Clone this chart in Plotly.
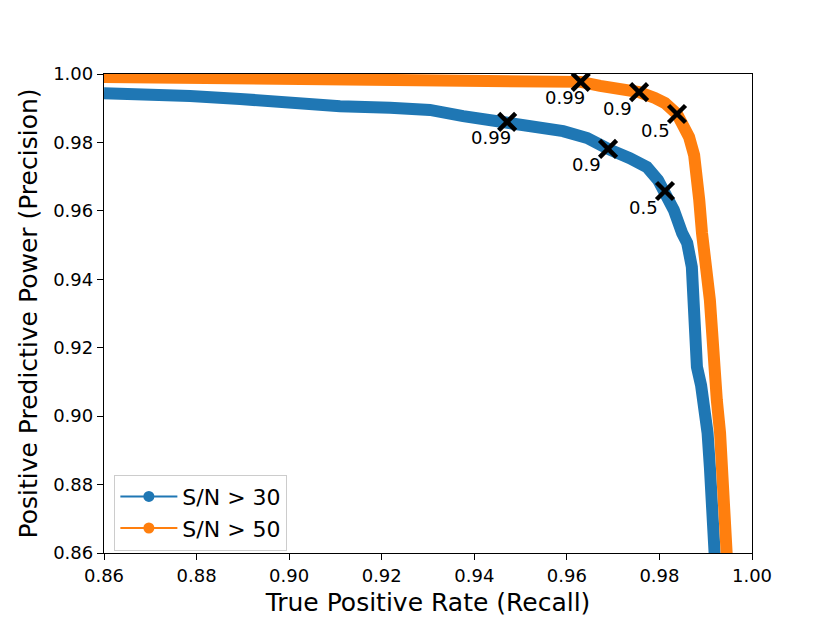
import plotly.graph_objects as go

# precision-recall curves
recall_sn30 = [0.8600, 0.8699, 0.8786, 0.8894, 0.9002, 0.9110, 0.9218, 0.9304, 0.9376,
               0.9434, 0.9471, 0.9520, 0.9592, 0.9644, 0.9672, 0.9689, 0.9736, 0.9773,
               0.9797, 0.9812, 0.9825, 0.9831, 0.9849, 0.9860, 0.9870, 0.9873, 0.9875,
               0.9881, 0.9890, 0.9898, 0.9904, 0.9909, 0.9914, 0.9918, 0.9920]
precision_sn30 = [0.9944, 0.9942, 0.9936, 0.9927, 0.9915, 0.9906, 0.9901, 0.9895, 0.9877,
                  0.9866, 0.9860, 0.9842, 0.9833, 0.9813, 0.9792, 0.9781, 0.9754, 0.9728,
                  0.9690, 0.9658, 0.9632, 0.9603, 0.9535, 0.9506, 0.9436, 0.9339, 0.9243,
                  0.9144, 0.9090, 0.9020, 0.8951, 0.8851, 0.8755, 0.8658, 0.8580]

recall_sn50 = [0.8600, 0.8764, 0.9023, 0.9304, 0.9456, 0.9542, 0.9630, 0.9672, 0.9715,
               0.9756, 0.9790, 0.9812, 0.9838, 0.9853, 0.9864, 0.9875, 0.9881, 0.9886,
               0.9892, 0.9903, 0.9909, 0.9914, 0.9916, 0.9924, 0.9931, 0.9937, 0.9942,
               0.9944, 0.9946]
precision_sn50 = [0.9991, 0.9988, 0.9988, 0.9985, 0.9982, 0.9977, 0.9977, 0.9965, 0.9959,
                  0.9947, 0.9930, 0.9915, 0.9883, 0.9851, 0.9816, 0.9763, 0.9705, 0.9632,
                  0.9535, 0.9436, 0.9339, 0.9243, 0.9144, 0.9047, 0.8951, 0.8851, 0.8755,
                  0.8658, 0.8580]

# threshold markers
thresh_labels = ["0.99", "0.9", "0.5"]
thresh_rec_sn30 = [0.9471, 0.9689, 0.9812]
thresh_prec_sn30 = [0.9860, 0.9781, 0.9658]
thresh_rec_sn50 = [0.9630, 0.9756, 0.9838]
thresh_prec_sn50 = [0.9977, 0.9947, 0.9883]

blue = "#1f77b4"
orange = "#ff7f0e"
font = "DejaVu Sans"

fig = go.Figure()

fig.add_trace(go.Scatter(x=recall_sn30, y=precision_sn30, mode="lines",
                         line=dict(color=blue, width=12), showlegend=False))
fig.add_trace(go.Scatter(x=recall_sn50, y=precision_sn50, mode="lines",
                         line=dict(color=orange, width=12), showlegend=False))

# thin legend handles like the matplotlib legend
fig.add_trace(go.Scatter(x=[None], y=[None], mode="lines+markers", name="S/N > 30",
                         line=dict(color=blue, width=2), marker=dict(size=11, color=blue)))
fig.add_trace(go.Scatter(x=[None], y=[None], mode="lines+markers", name="S/N > 50",
                         line=dict(color=orange, width=2), marker=dict(size=11, color=orange)))

for xs, ys in [(thresh_rec_sn30, thresh_prec_sn30), (thresh_rec_sn50, thresh_prec_sn50)]:
    fig.add_trace(go.Scatter(x=xs, y=ys, mode="markers", showlegend=False,
                             marker=dict(symbol="x-thin", size=17, color="black",
                                         line=dict(color="black", width=4.5))))
    for lab, xv, yv in zip(thresh_labels, xs, ys):
        fig.add_annotation(x=xv, y=yv, text=lab, showarrow=False,
                           xanchor="left", yanchor="middle", xshift=-38, yshift=-16,
                           font=dict(family=font, size=18, color="black"))

axis_common = dict(range=[0.86, 1.0], dtick=0.02, tickformat=".2f", showgrid=False,
                   zeroline=False, showline=True, linecolor="black", linewidth=1.3,
                   mirror=True, ticks="outside", ticklen=6, tickwidth=1.3,
                   tickcolor="black", tickfont=dict(family=font, size=18, color="black"))

fig.update_xaxes(**axis_common, tick0=0.86,
                 title=dict(text="True Positive Rate (Recall)", standoff=8,
                            font=dict(family=font, size=25, color="black")))
fig.update_yaxes(**axis_common, tick0=0.86,
                 title=dict(text="Positive Predictive Power (Precision)", standoff=8,
                            font=dict(family=font, size=25, color="black")))

# the page body adds 8px on the left/top, margins compensate for it
fig.update_layout(
    width=830, height=623,
    margin=dict(l=96, r=86, t=66, b=78),
    plot_bgcolor="white", paper_bgcolor="white",
    legend=dict(x=0.016, y=0.005, xanchor="left", yanchor="bottom",
                bgcolor="white", bordercolor="#cccccc", borderwidth=1,
                itemwidth=57, tracegroupgap=0,
                font=dict(family=font, size=22, color="black")),
)

fig.write_html("out.html")
